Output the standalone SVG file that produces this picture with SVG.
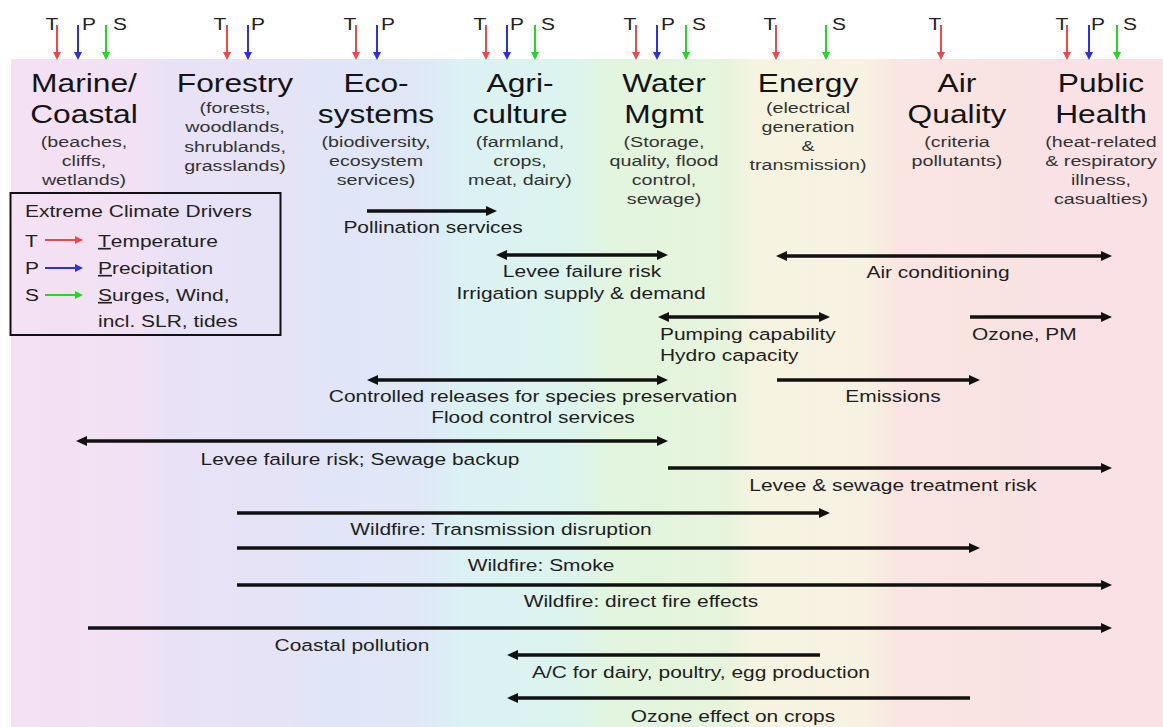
<svg xmlns="http://www.w3.org/2000/svg" width="1163" height="727" viewBox="0 0 1163 727">
<style>
text{font-family:"Liberation Sans",Arial,Helvetica,sans-serif;text-anchor:middle}
.st{text-anchor:start}
.ttl{font-size:25px;fill:#141414}
.sub{font-size:15.5px;fill:#333}
.lbl{font-size:16.5px;fill:#1e1e1e}
.drv{font-size:16.5px;fill:#222}
.conn{stroke:#111;stroke-width:3.5;fill:none}
.r{stroke:#ee4848;stroke-width:2;fill:none}
.b{stroke:#2e2ee2;stroke-width:2;fill:none}
.g{stroke:#22d822;stroke-width:2;fill:none}
</style>
<defs>
<linearGradient id="bg" gradientUnits="userSpaceOnUse" x1="11" y1="0" x2="1163" y2="0">
<stop offset="0" stop-color="#f4e1f3"/>
<stop offset="0.108" stop-color="#f2e1f4"/>
<stop offset="0.134" stop-color="#e9e2f6"/>
<stop offset="0.2385" stop-color="#e6e3f6"/>
<stop offset="0.2645" stop-color="#e1e5f7"/>
<stop offset="0.3556" stop-color="#dfe8f7"/>
<stop offset="0.390" stop-color="#dbf1f4"/>
<stop offset="0.4857" stop-color="#dcf4ee"/>
<stop offset="0.5204" stop-color="#e2f5df"/>
<stop offset="0.6201" stop-color="#e6f4dc"/>
<stop offset="0.6461" stop-color="#f6f4e1"/>
<stop offset="0.7433" stop-color="#f7f1e2"/>
<stop offset="0.7693" stop-color="#f9e5e1"/>
<stop offset="0.8716" stop-color="#f9e3e1"/>
<stop offset="0.8977" stop-color="#f9e1e5"/>
<stop offset="1" stop-color="#f9e1e5"/>
</linearGradient>
<marker id="ah" viewBox="0 0 11 10" refX="4" refY="5" markerWidth="11" markerHeight="10" markerUnits="userSpaceOnUse" orient="auto-start-reverse"><path d="M0,0 L11,5 L0,10 z" fill="#111"/></marker>
<marker id="hr" viewBox="0 0 8 8" refX="3" refY="4" markerWidth="8" markerHeight="8" markerUnits="userSpaceOnUse" orient="auto"><path d="M0,0 L8,4 L0,8 z" fill="#ee4848"/></marker>
<marker id="hb" viewBox="0 0 8 8" refX="3" refY="4" markerWidth="8" markerHeight="8" markerUnits="userSpaceOnUse" orient="auto"><path d="M0,0 L8,4 L0,8 z" fill="#2e2ee2"/></marker>
<marker id="hg" viewBox="0 0 8 8" refX="3" refY="4" markerWidth="8" markerHeight="8" markerUnits="userSpaceOnUse" orient="auto"><path d="M0,0 L8,4 L0,8 z" fill="#22d822"/></marker>
</defs>
<rect x="0" y="0" width="1163" height="727" fill="#fff"/>
<rect x="11" y="59" width="1152" height="668" fill="url(#bg)"/>

<g id="marine">
<text class="drv" transform="translate(52 30) scale(1.27 1)">T</text>
<text class="drv" transform="translate(89 30) scale(1.27 1)">P</text>
<text class="drv" transform="translate(120 30) scale(1.27 1)">S</text>
<path class="r" d="M57,25 V55" marker-end="url(#hr)"/>
<path class="b" d="M78,25 V55" marker-end="url(#hb)"/>
<path class="g" d="M106,25 V55" marker-end="url(#hg)"/>
<text class="ttl" transform="translate(84 92) scale(1.27 1)">Marine/</text>
<text class="ttl" transform="translate(84 123) scale(1.27 1)">Coastal</text>
<text class="sub" transform="translate(84 147) scale(1.27 1)">(beaches,</text>
<text class="sub" transform="translate(84 166) scale(1.27 1)">cliffs,</text>
<text class="sub" transform="translate(84 185) scale(1.27 1)">wetlands)</text>
</g>

<g id="forestry">
<text class="drv" transform="translate(220 30) scale(1.27 1)">T</text>
<text class="drv" transform="translate(258 30) scale(1.27 1)">P</text>
<path class="r" d="M227,25 V55" marker-end="url(#hr)"/>
<path class="b" d="M248,25 V55" marker-end="url(#hb)"/>
<text class="ttl" transform="translate(235 92) scale(1.27 1)">Forestry</text>
<text class="sub" transform="translate(235 113) scale(1.27 1)">(forests,</text>
<text class="sub" transform="translate(235 132) scale(1.27 1)">woodlands,</text>
<text class="sub" transform="translate(235 152) scale(1.27 1)">shrublands,</text>
<text class="sub" transform="translate(235 171) scale(1.27 1)">grasslands)</text>
</g>

<g id="ecosystems">
<text class="drv" transform="translate(350 30) scale(1.27 1)">T</text>
<text class="drv" transform="translate(388 30) scale(1.27 1)">P</text>
<path class="r" d="M356,25 V55" marker-end="url(#hr)"/>
<path class="b" d="M377,25 V55" marker-end="url(#hb)"/>
<text class="ttl" transform="translate(376 92) scale(1.27 1)">Eco-</text>
<text class="ttl" transform="translate(376 123) scale(1.27 1)">systems</text>
<text class="sub" transform="translate(376 147) scale(1.27 1)">(biodiversity,</text>
<text class="sub" transform="translate(376 166) scale(1.27 1)">ecosystem</text>
<text class="sub" transform="translate(376 185) scale(1.27 1)">services)</text>
</g>

<g id="agriculture">
<text class="drv" transform="translate(480 30) scale(1.27 1)">T</text>
<text class="drv" transform="translate(517 30) scale(1.27 1)">P</text>
<text class="drv" transform="translate(548 30) scale(1.27 1)">S</text>
<path class="r" d="M486,25 V55" marker-end="url(#hr)"/>
<path class="b" d="M507,25 V55" marker-end="url(#hb)"/>
<path class="g" d="M535,25 V55" marker-end="url(#hg)"/>
<text class="ttl" transform="translate(520 92) scale(1.27 1)">Agri-</text>
<text class="ttl" transform="translate(520 123) scale(1.27 1)">culture</text>
<text class="sub" transform="translate(520 147) scale(1.27 1)">(farmland,</text>
<text class="sub" transform="translate(520 166) scale(1.27 1)">crops,</text>
<text class="sub" transform="translate(520 185) scale(1.27 1)">meat, dairy)</text>
</g>

<g id="water">
<text class="drv" transform="translate(630 30) scale(1.27 1)">T</text>
<text class="drv" transform="translate(668 30) scale(1.27 1)">P</text>
<text class="drv" transform="translate(699 30) scale(1.27 1)">S</text>
<path class="r" d="M636,25 V55" marker-end="url(#hr)"/>
<path class="b" d="M657,25 V55" marker-end="url(#hb)"/>
<path class="g" d="M686,25 V55" marker-end="url(#hg)"/>
<text class="ttl" transform="translate(664 92) scale(1.27 1)">Water</text>
<text class="ttl" transform="translate(664 123) scale(1.27 1)">Mgmt</text>
<text class="sub" transform="translate(664 147) scale(1.27 1)">(Storage,</text>
<text class="sub" transform="translate(664 166) scale(1.27 1)">quality, flood</text>
<text class="sub" transform="translate(664 185) scale(1.27 1)">control,</text>
<text class="sub" transform="translate(664 204) scale(1.27 1)">sewage)</text>
</g>

<g id="energy">
<text class="drv" transform="translate(770 30) scale(1.27 1)">T</text>
<text class="drv" transform="translate(839 30) scale(1.27 1)">S</text>
<path class="r" d="M776,25 V55" marker-end="url(#hr)"/>
<path class="g" d="M826,25 V55" marker-end="url(#hg)"/>
<text class="ttl" transform="translate(808 92) scale(1.27 1)">Energy</text>
<text class="sub" transform="translate(808 113) scale(1.27 1)">(electrical</text>
<text class="sub" transform="translate(808 132) scale(1.27 1)">generation</text>
<text class="sub" transform="translate(808 151) scale(1.27 1)">&amp;</text>
<text class="sub" transform="translate(808 170) scale(1.27 1)">transmission)</text>
</g>

<g id="airquality">
<text class="drv" transform="translate(935 30) scale(1.27 1)">T</text>
<path class="r" d="M941,25 V55" marker-end="url(#hr)"/>
<text class="ttl" transform="translate(957 92) scale(1.27 1)">Air</text>
<text class="ttl" transform="translate(957 123) scale(1.27 1)">Quality</text>
<text class="sub" transform="translate(957 147) scale(1.27 1)">(criteria</text>
<text class="sub" transform="translate(957 166) scale(1.27 1)">pollutants)</text>
</g>

<g id="publichealth">
<text class="drv" transform="translate(1062 30) scale(1.27 1)">T</text>
<text class="drv" transform="translate(1098 30) scale(1.27 1)">P</text>
<text class="drv" transform="translate(1130 30) scale(1.27 1)">S</text>
<path class="r" d="M1067,25 V55" marker-end="url(#hr)"/>
<path class="b" d="M1089,25 V55" marker-end="url(#hb)"/>
<path class="g" d="M1117,25 V55" marker-end="url(#hg)"/>
<text class="ttl" transform="translate(1101 92) scale(1.27 1)">Public</text>
<text class="ttl" transform="translate(1101 123) scale(1.27 1)">Health</text>
<text class="sub" transform="translate(1101 147) scale(1.27 1)">(heat-related</text>
<text class="sub" transform="translate(1101 166) scale(1.27 1)">&amp; respiratory</text>
<text class="sub" transform="translate(1101 185) scale(1.27 1)">illness,</text>
<text class="sub" transform="translate(1101 204) scale(1.27 1)">casualties)</text>
</g>

<g id="legend">
<rect x="10.5" y="193" width="270" height="142" fill="none" stroke="#111" stroke-width="2"/>
<text class="drv st" transform="translate(25 217) scale(1.27 1)">Extreme Climate Drivers</text>
<text class="drv st" transform="translate(25 247) scale(1.27 1)">T</text>
<path class="r" d="M45,240 H78" marker-end="url(#hr)"/>
<text class="drv st" transform="translate(98 247) scale(1.27 1)"><tspan text-decoration="underline">T</tspan>emperature</text>
<text class="drv st" transform="translate(25 274) scale(1.27 1)">P</text>
<path class="b" d="M45,268 H78" marker-end="url(#hb)"/>
<text class="drv st" transform="translate(98 274) scale(1.27 1)"><tspan text-decoration="underline">P</tspan>recipitation</text>
<text class="drv st" transform="translate(25 301) scale(1.27 1)">S</text>
<path class="g" d="M45,295 H78" marker-end="url(#hg)"/>
<text class="drv st" transform="translate(98 301) scale(1.27 1)"><tspan text-decoration="underline">S</tspan>urges, Wind,</text>
<text class="drv st" transform="translate(98 327) scale(1.27 1)">incl. SLR, tides</text>
</g>

<g id="connectors">
<path class="conn" d="M367,211 H490" marker-end="url(#ah)"/>
<path class="conn" d="M503,255 H661" marker-start="url(#ah)" marker-end="url(#ah)"/>
<path class="conn" d="M783,256 H1105" marker-start="url(#ah)" marker-end="url(#ah)"/>
<path class="conn" d="M665,317 H823" marker-start="url(#ah)" marker-end="url(#ah)"/>
<path class="conn" d="M970,317 H1105" marker-end="url(#ah)"/>
<path class="conn" d="M374,380 H661" marker-start="url(#ah)" marker-end="url(#ah)"/>
<path class="conn" d="M777,380 H973" marker-end="url(#ah)"/>
<path class="conn" d="M83,441 H661" marker-start="url(#ah)" marker-end="url(#ah)"/>
<path class="conn" d="M668,468 H1105" marker-end="url(#ah)"/>
<path class="conn" d="M237,513 H823" marker-end="url(#ah)"/>
<path class="conn" d="M237,548 H973" marker-end="url(#ah)"/>
<path class="conn" d="M237,585 H1105" marker-end="url(#ah)"/>
<path class="conn" d="M88,628 H1105" marker-end="url(#ah)"/>
<path class="conn" d="M820,655 H514" marker-end="url(#ah)"/>
<path class="conn" d="M970,698 H514" marker-end="url(#ah)"/>
<g id="connector-labels">
<text class="lbl" transform="translate(433 233) scale(1.27 1)">Pollination services</text>
<text class="lbl" transform="translate(582 277) scale(1.27 1)">Levee failure risk</text>
<text class="lbl" transform="translate(581 299) scale(1.27 1)">Irrigation supply &amp; demand</text>
<text class="lbl" transform="translate(938 278) scale(1.27 1)">Air conditioning</text>
<text class="lbl st" transform="translate(660 340) scale(1.27 1)">Pumping capability</text>
<text class="lbl st" transform="translate(660 361) scale(1.27 1)">Hydro capacity</text>
<text class="lbl st" transform="translate(972 340) scale(1.27 1)">Ozone, PM</text>
<text class="lbl" transform="translate(533 402) scale(1.27 1)">Controlled releases for species preservation</text>
<text class="lbl" transform="translate(533 423) scale(1.27 1)">Flood control services</text>
<text class="lbl" transform="translate(893 402) scale(1.27 1)">Emissions</text>
<text class="lbl" transform="translate(360 465) scale(1.27 1)">Levee failure risk; Sewage backup</text>
<text class="lbl" transform="translate(893 491) scale(1.27 1)">Levee &amp; sewage treatment risk</text>
<text class="lbl" transform="translate(501 535) scale(1.27 1)">Wildfire: Transmission disruption</text>
<text class="lbl" transform="translate(541 571) scale(1.27 1)">Wildfire: Smoke</text>
<text class="lbl" transform="translate(641 607) scale(1.27 1)">Wildfire: direct fire effects</text>
<text class="lbl" transform="translate(352 651) scale(1.27 1)">Coastal pollution</text>
<text class="lbl" transform="translate(701 678) scale(1.27 1)">A/C for dairy, poultry, egg production</text>
<text class="lbl" transform="translate(733 722) scale(1.27 1)">Ozone effect on crops</text>
</g>
</g>
</svg>
